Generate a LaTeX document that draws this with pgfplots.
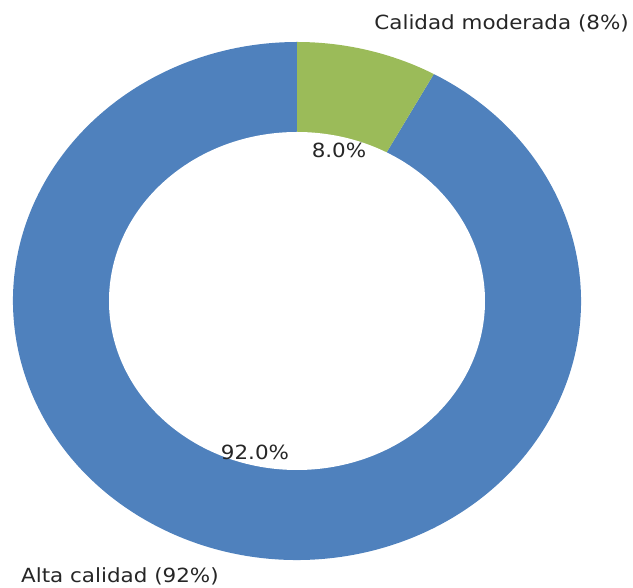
\documentclass[border=0pt]{standalone}
\usepackage{pgfplots}
\pgfplotsset{compat=1.18}
\usepackage{pgfplotstable}
\usepackage{fontspec}
\setmainfont{DejaVu Sans}
\usepackage{graphicx}
\definecolor{cblue}{HTML}{4F81BD}
\definecolor{cgreen}{HTML}{9BBB59}
\definecolor{ctext}{HTML}{262626}
\pgfplotstableread{
label value
Alta 92
Moderada 8
}\datatable
\begin{document}
\begin{tikzpicture}
\pgfplotstablegetelem{0}{value}\of\datatable \let\valA\pgfplotsretval
\pgfplotstablegetelem{1}{value}\of\datatable \let\valB\pgfplotsretval
\pgfmathsetmacro{\angB}{90-3.6*\valB}
\begin{axis}[
  x=1pt, y=1pt,
  xmin=0, xmax=633, ymin=0, ymax=588,
  scale only axis,
  hide axis,
  xtick=\empty, ytick=\empty,
  clip=false,
]
\path (axis cs:0,0) rectangle (axis cs:633,588);
% outer ring: blue (92%)
\fill[cblue] (axis cs:297,287) -- ++(\angB:284pt and 259pt)
  arc[start angle=\angB, end angle=\angB-3.6*\valA, x radius=284pt, y radius=259pt]
  -- cycle;
% green sector (8%)
\fill[cgreen] (axis cs:297,287) -- ++(90:284pt and 259pt)
  arc[start angle=90, end angle=\angB, x radius=284pt, y radius=259pt] -- cycle;
% hole
\fill[white] (axis cs:297,287) ellipse[x radius=188pt, y radius=169pt];
\node[text=ctext, font=\fontsize{19.5}{22}\selectfont, anchor=center] at (axis cs:339,438) {\scalebox{1.1}[1]{8.0\%}};
\node[text=ctext, font=\fontsize{19.5}{22}\selectfont, anchor=center] at (axis cs:255,136) {\scalebox{1.1}[1]{92.0\%}};
\node[text=ctext, font=\fontsize{19.5}{22}\selectfont, anchor=east, inner sep=0pt] at (axis cs:629,565) {\scalebox{1.1}[1]{Calidad moderada (8\%)}};
\node[text=ctext, font=\fontsize{19.5}{22}\selectfont, anchor=west, inner sep=0pt] at (axis cs:21,12) {\scalebox{1.1}[1]{Alta calidad (92\%)}};
\end{axis}
\pgfresetboundingbox
\path (current axis.south west) rectangle (current axis.north east);
\end{tikzpicture}
\end{document}
